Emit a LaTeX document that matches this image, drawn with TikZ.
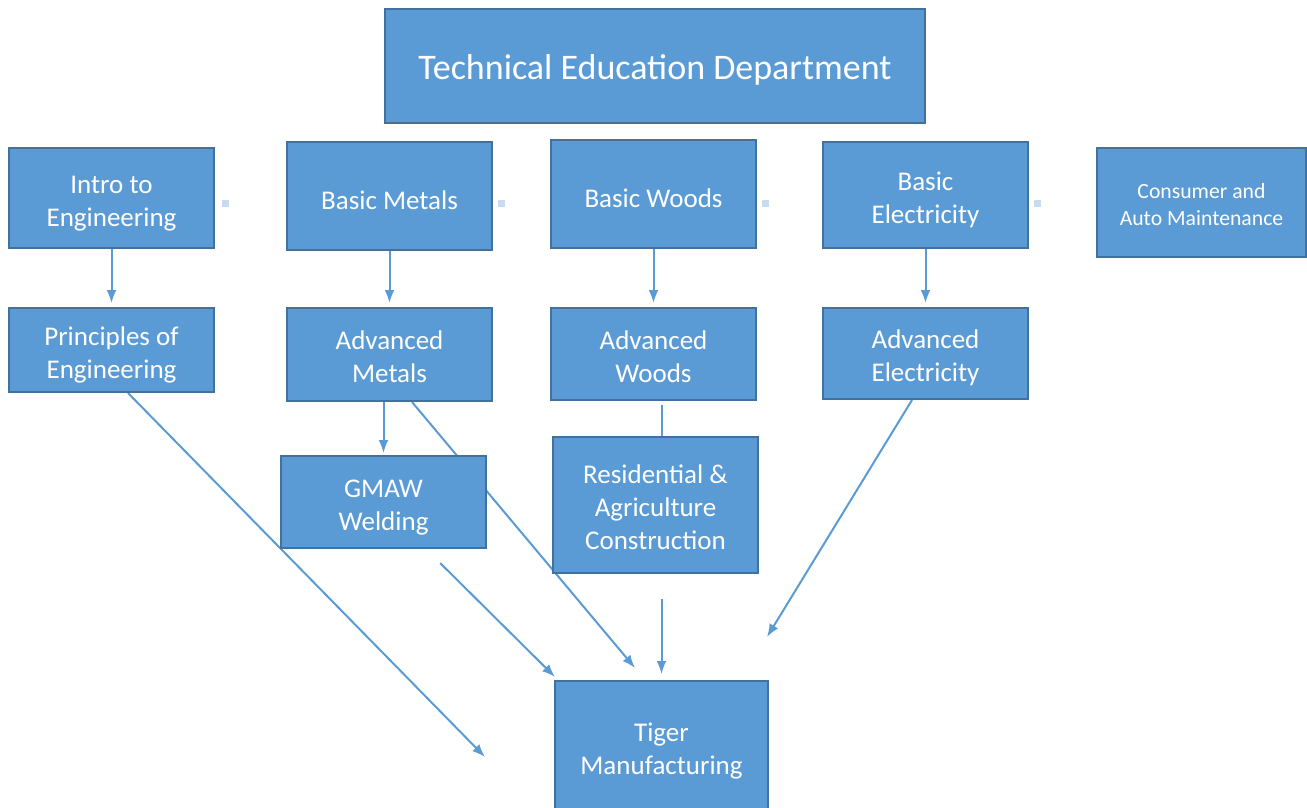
\documentclass[tikz,border=0pt]{standalone}
\usepackage{fontspec}
\setmainfont{Carlito}
\usetikzlibrary{arrows.meta,backgrounds}
\definecolor{boxblue}{HTML}{5B9BD5}
\definecolor{boxedge}{HTML}{41719C}
\definecolor{dotblue}{HTML}{C9DCEF}
\newcommand{\lift}[1][28pt]{\rule{0pt}{#1}}
\tikzstyle{unitbox} = [draw=boxedge, fill=boxblue, line width=2pt,
    rectangle, text=white, align=center, inner sep=0pt,
    minimum width=205pt, font=\fontsize{27}{33}\selectfont]
\tikzstyle{link} = [draw=boxblue, line width=2pt, -{Latex[length=13pt,width=10pt]}]
\tikzstyle{spot} = [fill=dotblue, rectangle, minimum size=7pt, inner sep=0pt]

\begin{document}
\begin{tikzpicture}[x=1pt, y=-1pt]
    \useasboundingbox (0,0) rectangle (1307,808);
    \clip (0,0) rectangle (1307,808);
    % top
    \node [unitbox, minimum width=540pt, minimum height=114pt,
        font=\fontsize{36}{44}\selectfont] (dept) at (655,66) {\lift[32pt]Technical Education Department};
    % first row
    \node [unitbox, minimum height=100pt] (intro) at (111.5,198) {\lift Intro to\\Engineering};
    \node [unitbox, minimum height=108pt] (bmetals) at (389.5,196) {\lift Basic Metals};
    \node [unitbox, minimum height=108pt] (bwoods) at (653.5,194) {\lift Basic Woods};
    \node [unitbox, minimum height=106pt] (belec) at (925.5,195) {\lift Basic\\Electricity};
    \node [unitbox, minimum width=209pt, minimum height=109pt,
        font=\fontsize{21.7}{27}\selectfont] (consumer) at (1201.5,202.5) {\lift[20pt]Consumer and\\Auto Maintenance};
    \node [spot] (spot1) at (225,203) {};
    \node [spot] (spot2) at (501,203) {};
    \node [spot] (spot3) at (765,203) {};
    \node [spot] (spot4) at (1037,203) {};
    % second row
    \node [unitbox, minimum height=84pt] (principles) at (111.5,350) {\lift Principles of\\Engineering};
    \node [unitbox, minimum height=93pt] (ametals) at (389.5,354.5) {\lift[23pt]Advanced\\Metals};
    \node [unitbox, minimum height=92pt] (awoods) at (653.5,354) {\lift[25pt]Advanced\\Woods};
    \node [unitbox, minimum height=91pt] (aelec) at (925.5,353.5) {\lift Advanced\\Electricity};
    % third row
    \node [unitbox, minimum height=92pt] (gmaw) at (383.5,502) {\lift[29pt]GMAW\\Welding};
    \node [unitbox, minimum height=136pt] (resag) at (655.5,505) {\lift[24pt]Residential \&\\Agriculture\\Construction};
    \node [unitbox, minimum width=213pt, minimum height=130pt] (tiger) at (661.5,746) {\lift Tiger\\Manufacturing};

    \coordinate (tigerw) at (485,757);
    \coordinate (tigernw) at (635,668);
    \coordinate (tigerne) at (767,637);

    \begin{scope}[on background layer]
        \foreach \a/\b in {intro/principles, bmetals/ametals, bwoods/awoods, belec/aelec}
            \draw [link, shorten >=4pt] (\a) -- (\b);
        \draw [link, shorten >=2pt] (ametals.south -| gmaw.north) -- (gmaw.north);
        \draw [draw=boxblue, line width=2pt, shorten <=4pt] (awoods.south -| tiger.north) -- (resag.north -| tiger.north);
        \draw [link] ([xshift=16.5pt]principles.south) -- (tigerw);
        \draw [link] ([xshift=22.5pt]ametals.south) -- (tigernw);
        \draw [link, shorten <=20pt] ([xshift=42.5pt]gmaw.south) -- (555,677);
        \draw [link, shorten <=25pt, shorten >=6pt] (resag.south -| tiger.north) -- (tiger.north);
        \draw [link] ([xshift=-13.5pt]aelec.south) -- (tigerne);
    \end{scope}
\end{tikzpicture}
\end{document}
